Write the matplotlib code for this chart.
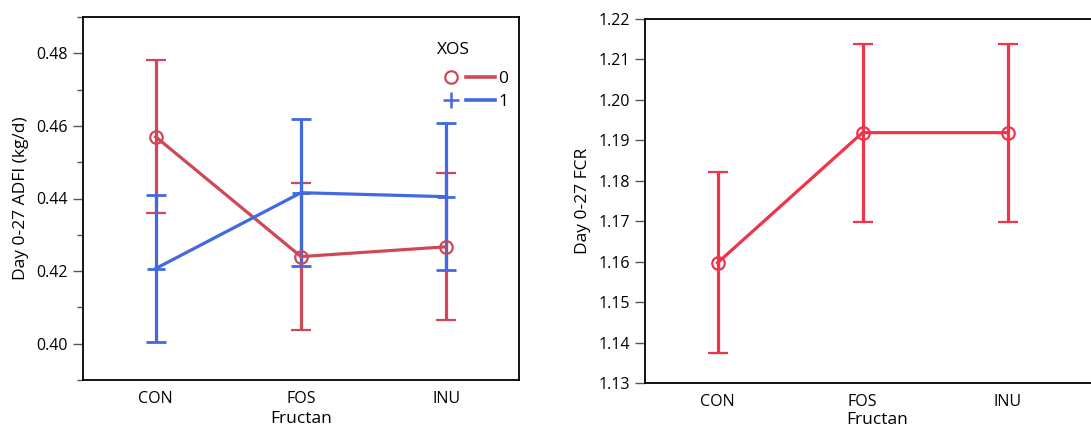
import numpy as np
import matplotlib
matplotlib.use('Agg')
import matplotlib.pyplot as plt
from matplotlib.lines import Line2D
from matplotlib.legend_handler import HandlerTuple
from matplotlib.ticker import MultipleLocator, FormatStrFormatter

plt.rcParams['font.family'] = ['Open Sans', 'DejaVu Sans']

fructan = ['CON', 'FOS', 'INU']

# ADFI by fructan, split by XOS level (mean with lower / upper CI)
adfi_xos0_mean = [0.4570, 0.4240, 0.4267]
adfi_xos0_low = [0.4361, 0.4037, 0.4065]
adfi_xos0_high = [0.4781, 0.4444, 0.4471]

adfi_xos1_mean = [0.4207, 0.4416, 0.4405]
adfi_xos1_low = [0.4004, 0.4213, 0.4202]
adfi_xos1_high = [0.4410, 0.4620, 0.4608]

# FCR by fructan
fcr_mean = [1.1597, 1.1919, 1.1919]
fcr_low = [1.1373, 1.1698, 1.1698]
fcr_high = [1.1821, 1.2139, 1.2139]

red = '#CF4858'
blue = '#4169E1'
red2 = '#EE3549'

W, H = 1091, 428
fig = plt.figure(figsize=(W / 100, H / 100), dpi=100)


def px_axes(x0, y0, x1, y1):
    return fig.add_axes([x0 / W, (H - y1) / H, (x1 - x0) / W, (y1 - y0) / H])


def err(mean, low, high):
    m = np.array(mean)
    return np.vstack([m - np.array(low), np.array(high) - m])


def style(ax):
    for s in ax.spines.values():
        s.set_linewidth(1.3)
    ax.tick_params(axis='y', which='major', length=7, width=1, color='#555555',
                   labelsize=11.5, pad=4)
    ax.tick_params(axis='y', which='minor', length=4, width=1, color='#555555')
    ax.tick_params(axis='x', length=0, labelsize=11.5, pad=8)


x = np.arange(len(fructan))

# left panel: ADFI
ax1 = px_axes(83, 17, 519, 380)
ax1.errorbar(x, adfi_xos0_mean, yerr=err(adfi_xos0_mean, adfi_xos0_low, adfi_xos0_high),
             color=red, lw=2.3, elinewidth=2.3, capsize=7, capthick=2.3,
             marker='o', ms=9, mfc='none', mec=red, mew=1.6, zorder=3)
ax1.errorbar(x, adfi_xos1_mean, yerr=err(adfi_xos1_mean, adfi_xos1_low, adfi_xos1_high),
             color=blue, lw=2.3, elinewidth=2.3, capsize=7, capthick=2.3,
             marker='+', ms=13, mec=blue, mew=2, zorder=3)
ax1.set_xlim(-0.5, 2.5)
ax1.set_ylim(0.39, 0.49)
ax1.yaxis.set_major_locator(MultipleLocator(0.02))
ax1.yaxis.set_minor_locator(MultipleLocator(0.01))
ax1.yaxis.set_major_formatter(FormatStrFormatter('%.2f'))
ax1.set_xticks(x)
ax1.set_xticklabels(fructan)
ax1.set_xlabel('Fructan', fontsize=12.5, labelpad=2.5)
ax1.set_ylabel('Day 0-27 ADFI (kg/d)', fontsize=12.5, labelpad=5)
style(ax1)

h0 = (Line2D([], [], ls='none', marker='o', ms=9, mfc='none', mec=red, mew=1.6),
      Line2D([], [], color=red, lw=2.6))
h1 = (Line2D([], [], ls='none', marker='+', ms=12, mec=blue, mew=1.8),
      Line2D([], [], color=blue, lw=2.6))
leg = ax1.legend([h0, h1], ['0', '1'], title='XOS', loc='upper right',
                 bbox_to_anchor=(0.975, 0.931), frameon=False, fontsize=12.5,
                 title_fontsize=12.5, handlelength=3.4, handletextpad=0.15,
                 labelspacing=0.42, borderaxespad=0, borderpad=0, alignment='left',
                 handler_map={tuple: HandlerTuple(ndivide=2, pad=0)})
leg._legend_box.sep = 9

# right panel: FCR (frame runs off the right edge)
ax2 = px_axes(645, 19, 1110, 383)
ax2.errorbar(x, fcr_mean, yerr=err(fcr_mean, fcr_low, fcr_high),
             color=red2, lw=2.3, elinewidth=2.3, capsize=7, capthick=2.3,
             marker='o', ms=9, mfc='none', mec=red2, mew=1.6, zorder=3)
ax2.set_xlim(-0.5, -0.5 + 465 / 145)
ax2.set_ylim(1.13, 1.22)
ax2.yaxis.set_major_locator(MultipleLocator(0.01))
ax2.yaxis.set_major_formatter(FormatStrFormatter('%.2f'))
ax2.set_xticks(x)
ax2.set_xticklabels(fructan)
ax2.set_xlabel('Fructan', fontsize=12.5, labelpad=1.5)
ax2.set_ylabel('Day 0-27 FCR', fontsize=12.5, labelpad=5)
style(ax2)

fig.savefig('out.png', dpi=100)
